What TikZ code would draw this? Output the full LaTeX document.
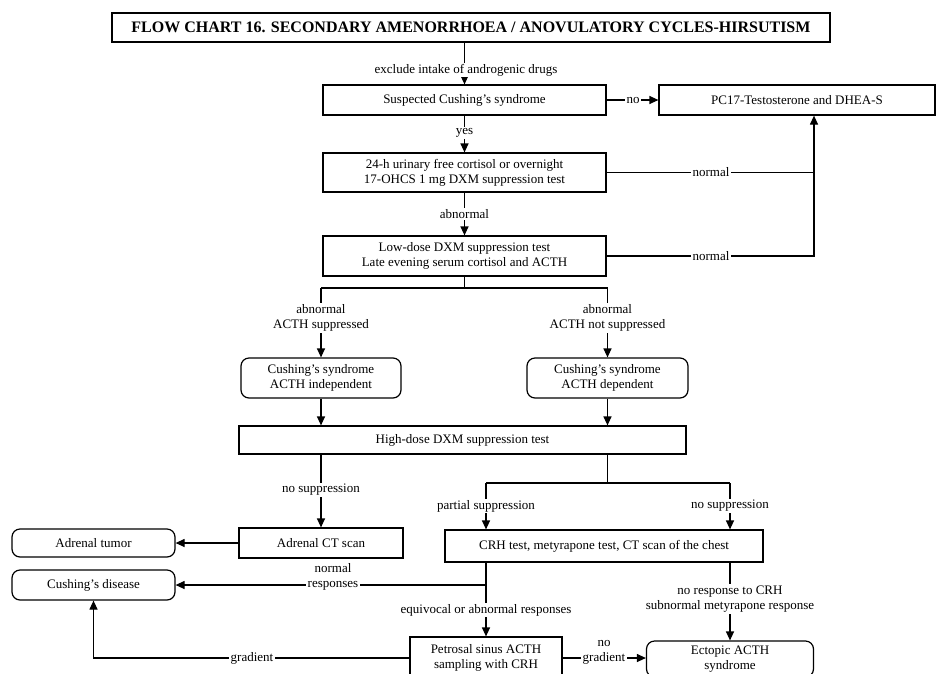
\documentclass[tikz,border=0pt]{standalone}
\usepackage{fontspec}
\setmainfont{Liberation Serif}
\usetikzlibrary{arrows.meta}
\begin{document}
\begin{tikzpicture}[x=1pt,y=-1pt,
  every node/.style={font=\fontsize{13}{15}\selectfont, align=center, inner sep=0pt},
  flowbox/.style 2 args={draw, line width=1.2pt, minimum width=#1, minimum height=#2},
  roundbox/.style 2 args={draw, line width=1.2pt, rounded corners=8pt, minimum width=#1, minimum height=#2},
  edgelabel/.style={fill=white, inner sep=1.5pt},
  flowline/.style={line width=1.2pt},
  flowarrow/.style={line width=1.2pt, -{Triangle[length=9pt,width=8pt]}}]
\useasboundingbox (0,0) rectangle (937,673);
\clip (0,0) rectangle (937,673);

% boxes
\node[flowbox={718}{29}, font=\bfseries\fontsize{16}{18}\selectfont] (title) at (471,27.5)
  {FLOW CHART 16. SECONDARY AMENORRHOEA / ANOVULATORY CYCLES-HIRSUTISM};
\node[flowbox={283}{30}] (susp) at (464.5,100) {Suspected Cushing's syndrome};
\node[flowbox={276}{30}] (pc17) at (797,100) {PC17-Testosterone and DHEA-S};
\node[flowbox={283}{39}] (h24) at (464.5,172.5) {24-h urinary free cortisol or overnight\\17-OHCS 1 mg DXM suppression test};
\node[flowbox={283}{40}] (low) at (464.5,256) {Low-dose DXM suppression test\\Late evening serum cortisol and ACTH};
\node[roundbox={160}{40}] (ind) at (321,378) {Cushing's syndrome\\ACTH independent};
\node[roundbox={161}{40}] (dep) at (607.5,378) {Cushing's syndrome\\ACTH dependent};
\node[flowbox={447}{28}] (high) at (462.5,440) {High-dose DXM suppression test};
\node[flowbox={164}{30}] (adct) at (321,543) {Adrenal CT scan};
\node[roundbox={163}{28}] (tumor) at (93.5,543) {Adrenal tumor};
\node[roundbox={163}{30}] (disease) at (93.5,585) {Cushing's disease};
\node[flowbox={318}{32}] (crh) at (604,546) {CRH test, metyrapone test, CT scan of the chest};
\node[flowbox={152}{42}] (petro) at (486,658) {Petrosal sinus ACTH\\sampling with CRH};
\node[roundbox={167}{36}] (ecto) at (730,659) {Ectopic ACTH\\syndrome};

% junction points
\coordinate (jn) at (814,256);
\coordinate (bl) at (321,288);
\coordinate (br) at (607.5,288);
\coordinate (hl) at (486,483);
\coordinate (hr) at (730,483);
\coordinate (nr) at (486,585);

% connectors
\draw[flowarrow] (title.south -| susp.north) -- (susp.north);
\draw[flowarrow] (susp.east) -- (pc17.west);
\draw[flowarrow] (susp.south) -- (h24.north);
\draw[flowline] (h24.east) -- (h24.east -| jn);
\draw[flowarrow] (low.east) -- (jn) -- (pc17.south -| jn);
\draw[flowarrow] (h24.south) -- (low.north);
\draw[flowline] (low.south) -- (low.south |- bl);
\draw[flowline] (bl) -- (br);
\draw[flowarrow] (bl) -- (ind.north);
\draw[flowarrow] (br) -- (dep.north);
\draw[flowarrow] (ind.south) -- (ind.south |- high.north);
\draw[flowarrow] (dep.south) -- (dep.south |- high.north);
\draw[flowarrow] (adct.north |- high.south) -- (adct.north);
\draw[flowline] (dep.south |- high.south) -- (dep.south |- hl);
\draw[flowline] (hl) -- (hr);
\draw[flowarrow] (hl) -- (hl |- crh.north);
\draw[flowarrow] (hr) -- (hr |- crh.north);
\draw[flowarrow] (adct.west) -- (tumor.east);
\draw[flowarrow] (hl |- crh.south) -- (petro.north);
\draw[flowarrow] (nr) -- (disease.east);
\draw[flowarrow] (hr |- crh.south) -- (ecto.north);
\draw[flowarrow] (petro.east) -- (petro.east -| ecto.west);
\draw[flowarrow] (petro.west) -- (petro.west -| disease.south) -- (disease.south);

% connector labels
\node[edgelabel] (l1) at (466,70) {exclude intake of androgenic drugs};
\node[edgelabel] (l2) at (633,100) {no};
\node[edgelabel] (l3) at (464.5,133) {yes};
\node[edgelabel] (l4) at (711,172.5) {normal};
\node[edgelabel] (l5) at (711,256) {normal};
\node[edgelabel] (l6) at (464.5,214) {abnormal};
\node[edgelabel] (l7) at (321,318) {abnormal\\ACTH suppressed};
\node[edgelabel] (l8) at (607.5,318) {abnormal\\ACTH not suppressed};
\node[edgelabel] (l9) at (321,490) {no suppression};
\node[edgelabel] (l10) at (486,506) {partial suppression};
\node[edgelabel] (l11) at (730,506) {no suppression};
\node[edgelabel] (l12) at (333,577) {normal\\responses};
\node[edgelabel] (l13) at (486,610) {equivocal or abnormal responses};
\node[edgelabel] (l14) at (730,599) {no response to CRH\\subnormal metyrapone response};
\node[edgelabel] (l15) at (604,652) {no\\gradient};
\node[edgelabel] (l16) at (252,658) {gradient};
\end{tikzpicture}
\end{document}
